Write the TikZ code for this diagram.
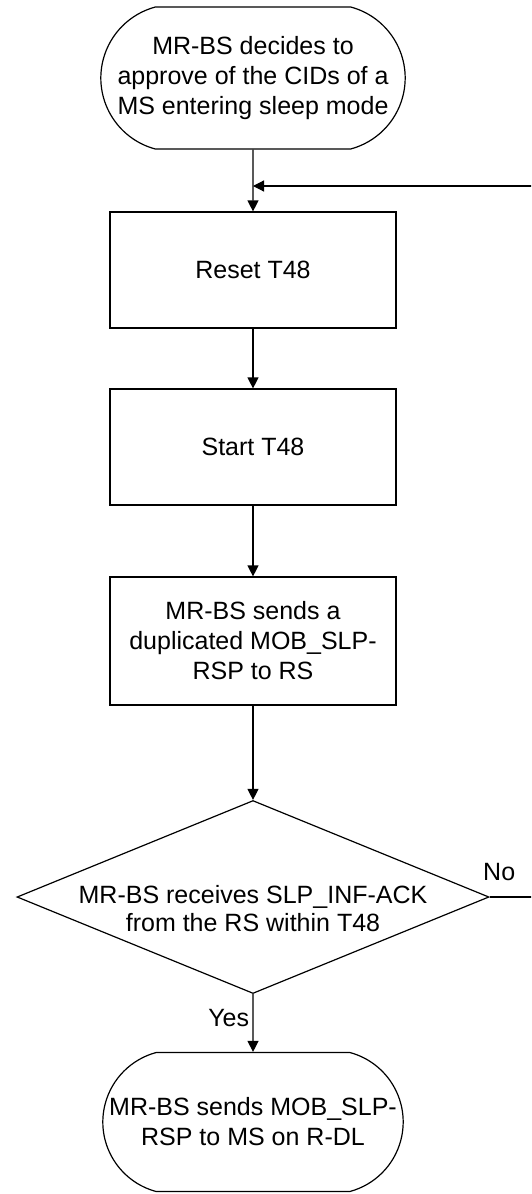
\documentclass[tikz,border=0pt]{standalone}
\usepackage{fontspec}
\setmainfont{Liberation Sans}
\usetikzlibrary{shapes.geometric, shapes.misc, arrows.meta, positioning}
\tikzstyle{arrow} = [-{Triangle[length=11pt, width=11pt]}]
\tikzstyle{process} = [rectangle, draw=black, minimum width=286pt, minimum height=116pt, align=center]
\tikzstyle{terminal} = [rounded rectangle, rounded rectangle arc length=150, draw=black, align=center]
\tikzstyle{decision} = [diamond, draw=black, minimum width=472pt, minimum height=193pt, inner sep=0pt]

\begin{document}
\begin{tikzpicture}[x=1pt, y=-1pt, line width=1.2pt, font=\fontsize{25}{30}\selectfont]
  \useasboundingbox (0,0) rectangle (531,1194);
  \clip (0,0) rectangle (531,1194);

  % Top
  \node[terminal, minimum width=311pt, minimum height=142pt] (begin) at (253, 78) {MR-BS decides to\\approve of the CIDs of a\\MS entering sleep mode};
  \coordinate (join) at (253, 186);

  % Timer boxes
  \node[process] (reset) at (253, 270) {Reset T48};
  \node[process] (start) at (253, 447) {Start T48};
  \node[process, minimum height=128pt] (send) at (253, 641) {MR-BS sends a\\duplicated MOB\_SLP-\\RSP to RS};

  \draw[arrow] (begin) -- (reset);
  \draw[arrow] (reset) -- (start);
  \draw[arrow] (start) -- (send);

  % Decision
  \node[decision] (check) at (253, 897) {};
  \node[align=center, font=\fontsize{25}{28}\selectfont] (checktext) at ([yshift=-12pt]check.center) {MR-BS receives SLP\_INF-ACK\\from the RS within T48};

  \draw[arrow] (send) -- (check);
  \draw[arrow] (check.east) -- node[pos=0.16, above=12pt] {No} ++(60,0) |- (join);

  % Bottom
  \node[terminal, minimum width=307pt, minimum height=139pt] (finish) at (253, 1122) {MR-BS sends MOB\_SLP-\\RSP to MS on R-DL};

  \draw[arrow] (check) -- node[left, pos=0.42] {Yes} (finish);

\end{tikzpicture}
\end{document}
